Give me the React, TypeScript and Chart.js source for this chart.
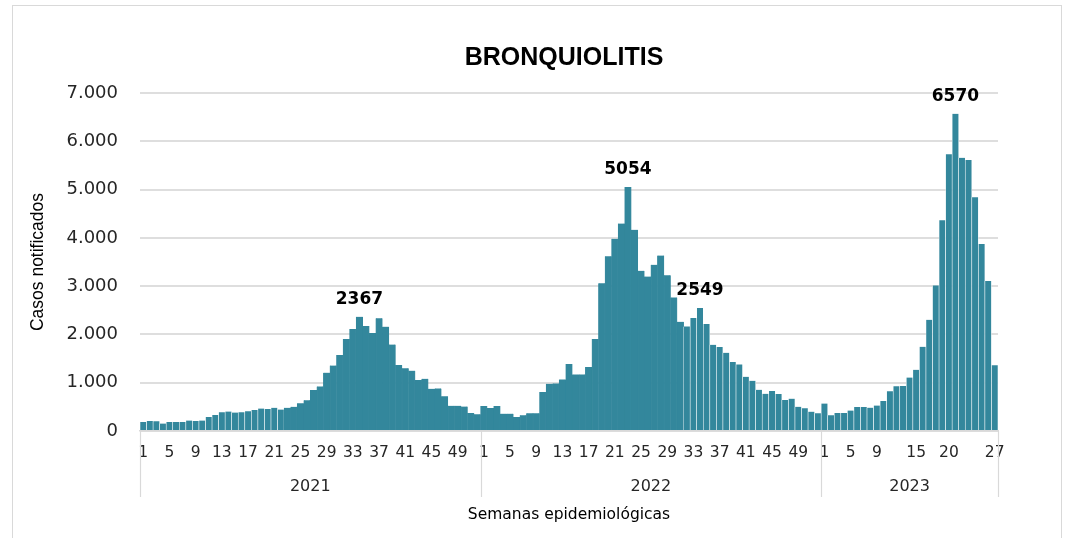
import React, { useEffect, useRef } from "react";
import { Chart, registerables } from "chart.js";

Chart.register(...registerables);

// ---- Data ----
const years = ["2021", "2022", "2023"];
const cases2021 = [187, 208, 201, 153, 187, 187, 187, 215, 208, 215, 292, 333, 389, 403, 382, 389, 410, 437, 465, 458, 479, 444, 479, 500, 576, 639, 847, 924, 1208, 1354, 1576, 1903, 2111, 2367, 2174, 2028, 2333, 2160, 1792, 1368, 1299, 1250, 1056, 1083, 875, 882, 722, 521, 521, 507, 375, 347];
const cases2022 = [517, 476, 517, 359, 359, 290, 324, 366, 366, 807, 979, 986, 1069, 1386, 1172, 1172, 1324, 1903, 3062, 3621, 3979, 4297, 5054, 4166, 3317, 3200, 3441, 3634, 3228, 2766, 2262, 2166, 2338, 2549, 2214, 1786, 1738, 1621, 1428, 1379, 1124, 1041, 855, 772, 828, 766, 641, 669, 503, 469, 400, 366];
const cases2023 = [567, 325, 373, 373, 422, 498, 498, 484, 526, 622, 823, 927, 934, 1107, 1266, 1743, 2303, 3015, 4364, 5733, 6570, 5657, 5615, 4841, 3873, 3105, 1362];
const shownWeeks2021 = [1, 5, 9, 13, 17, 21, 25, 29, 33, 37, 41, 45, 49];
const shownWeeks2022 = [1, 5, 9, 13, 17, 21, 25, 29, 33, 37, 41, 45, 49];
const shownWeeks2023 = [1, 5, 9, 15, 20, 27];
// annotated bars: [year index, week]
const annotated = [[0, 34], [1, 23], [1, 34], [2, 21]];
const yTicks = [0, 1000, 2000, 3000, 4000, 5000, 6000, 7000];

const TITLE = "BRONQUIOLITIS";
const Y_TITLE = "Casos notificados";
const X_TITLE = "Semanas epidemiológicas";

const BAR = "#33879c";

export default function App() {
  const ref = useRef<HTMLCanvasElement | null>(null);

  useEffect(() => {
    document.body.style.margin = "0";
    const series = [cases2021, cases2022, cases2023];
    const shown = [shownWeeks2021, shownWeeks2022, shownWeeks2023];
    const labels: string[] = [];
    const values: number[] = [];
    const showTick: boolean[] = [];
    const groupStart: number[] = [];
    series.forEach((arr, yi) => {
      groupStart.push(values.length);
      arr.forEach((v, i) => {
        labels.push(String(i + 1));
        values.push(v);
        showTick.push(shown[yi].includes(i + 1));
      });
    });
    // bars with thin white separators (as in the reference)
    const borderColors = values.map((_, i) => {
      const sep = i < 22 || (i >= 52 + 31 && i < 104) || i >= 104;
      return sep ? "rgba(255,255,255,0.85)" : BAR;
    });
    const annotatedIdx = annotated.map(([y, w]) => groupStart[y] + w - 1);

    const fmt = (v: number) => String(v).replace(/\B(?=(\d{3})+(?!\d))/g, ".");

    const groupsPlugin = {
      id: "groups",
      beforeDraw(chart: any) {
        const ctx = chart.ctx;
        ctx.save();
        ctx.strokeStyle = "#d9d9d9";
        ctx.lineWidth = 1;
        ctx.strokeRect(12.5, 5.5, 1049, 560);
        ctx.restore();
      },
      afterDraw(chart: any) {
        const ctx = chart.ctx;
        const xs = chart.scales.x;
        const area = chart.chartArea;
        const half = (xs.getPixelForValue(1) - xs.getPixelForValue(0)) / 2;
        const bounds = groupStart.map((s) => xs.getPixelForValue(s) - half);
        bounds.push(xs.getPixelForValue(values.length - 1) + half);
        ctx.save();
        // chart title, centred over the plot area
        ctx.fillStyle = "#000";
        ctx.font = "bold 25px 'Liberation Sans Narrow', 'Liberation Sans', sans-serif";
        ctx.textAlign = "center";
        ctx.textBaseline = "middle";
        ctx.fillText(TITLE, (area.left + area.right) / 2 - 5, 58);
        // group separators
        ctx.strokeStyle = "#d9d9d9";
        ctx.lineWidth = 1.2;
        bounds.forEach((b) => {
          ctx.beginPath();
          ctx.moveTo(Math.round(b) + 0.5, area.bottom);
          ctx.lineTo(Math.round(b) + 0.5, area.bottom + 66);
          ctx.stroke();
        });
        ctx.fillStyle = "#262626";
        ctx.font = "16px 'DejaVu Sans'";
        years.forEach((y, i) => {
          ctx.fillText(y, (bounds[i] + bounds[i + 1]) / 2, area.bottom + 56);
        });
        // value labels
        const meta = chart.getDatasetMeta(0);
        ctx.fillStyle = "#000";
        ctx.font = "bold 17px 'DejaVu Sans'";
        annotatedIdx.forEach((i) => {
          const el = meta.data[i];
          ctx.fillText(String(values[i]), el.x, el.y - 17);
        });
        ctx.restore();
      },
    };

    const chart = new Chart(ref.current as HTMLCanvasElement, {
      type: "bar",
      data: {
        labels,
        datasets: [
          {
            data: values,
            backgroundColor: BAR,
            borderColor: borderColors,
            borderWidth: { left: 0.6, right: 0.6, top: 0, bottom: 0 },
            borderSkipped: false,
            barPercentage: 1,
            categoryPercentage: 1,
          },
        ],
      },
      options: {
        animation: false,
        responsive: false,
        layout: { padding: { left: 0, right: 68, top: 93, bottom: 0 } },
        plugins: {
          legend: { display: false },
          tooltip: { enabled: false },
          title: { display: false },
        },
        scales: {
          x: {
            grid: { display: false, drawTicks: false },
            border: { display: true, color: "#d9d9d9", width: 1.5 },
            ticks: {
              autoSkip: false,
              maxRotation: 0,
              minRotation: 0,
              padding: 13,
              color: "#262626",
              font: { family: "'DejaVu Sans'", size: 15.5 },
              callback: (_v: any, i: number) => (showTick[i] ? labels[i] : ""),
            },
            title: {
              display: true,
              text: X_TITLE,
              color: "#000",
              font: { family: "'DejaVu Sans'", size: 15.5 },
              padding: { top: 0, bottom: 14 },
            },
            afterFit: (s: any) => {
              s.height = 107;
            },
          },
          y: {
            min: 0,
            max: 7000,
            afterBuildTicks: (s: any) => {
              s.ticks = yTicks.map((v) => ({ value: v }));
            },
            grid: { color: "#dedede", lineWidth: 2, drawTicks: false },
            border: { display: false },
            ticks: {
              padding: 22,
              color: "#262626",
              font: { family: "'DejaVu Sans'", size: 18 },
              callback: (v: any) => fmt(Number(v)),
            },
            title: {
              display: true,
              text: Y_TITLE,
              color: "#000",
              font: { family: "'Liberation Sans Narrow', 'Liberation Sans', sans-serif", size: 17.5 },
              padding: { top: 28, bottom: 0 },
            },
            afterFit: (s: any) => {
              s.width = 140;
            },
          },
        },
      },
      plugins: [groupsPlugin],
    });
    return () => chart.destroy();
  }, []);

  return (
    <div style={{ width: 1066, height: 538, background: "#fff" }}>
      <canvas ref={ref} width={1066} height={538} />
    </div>
  );
}
